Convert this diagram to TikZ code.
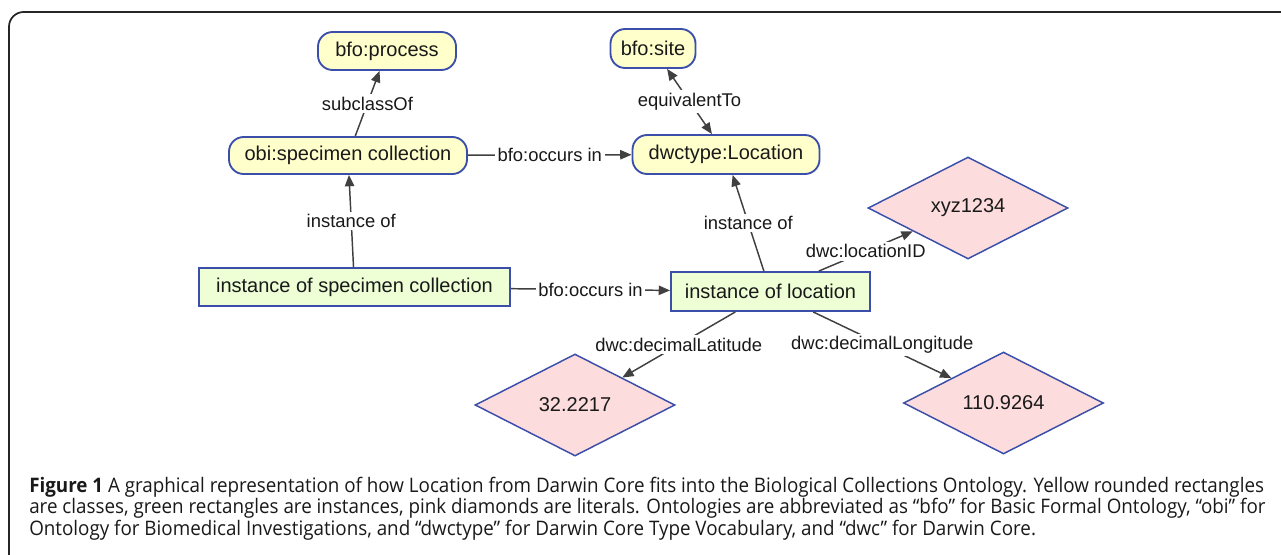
\documentclass[tikz,border=0pt]{standalone}
\usepackage{fontspec}
\setmainfont{Liberation Sans}
\newfontfamily\capfont[FakeStretch=0.94]{Open Sans}
\usetikzlibrary{shapes.geometric,arrows.meta}
\definecolor{clsfill}{RGB}{255,255,204}
\definecolor{insfill}{RGB}{238,255,214}
\definecolor{litfill}{RGB}{252,220,220}
\definecolor{bord}{RGB}{58,78,170}
\definecolor{edgec}{RGB}{64,64,64}
\definecolor{txt}{RGB}{25,25,25}
\newcommand\mynodefont{\fontsize{15}{18}\selectfont}
\newcommand\mylblfont{\fontsize{13.8}{16}\selectfont}
\newcommand\mycapfont{\capfont\fontsize{15}{17}\selectfont}
\begin{document}
\begin{tikzpicture}[x=0.75pt,y=-0.75pt,
  cls/.style={draw=bord,fill=clsfill,line width=1.4pt,rounded corners=11pt,inner sep=0pt,font=\mynodefont,text=txt},
  ins/.style={draw=bord,fill=insfill,line width=1.4pt,inner sep=0pt,font=\mynodefont,text=txt},
  lit/.style={diamond,aspect=2,draw=bord,fill=litfill,line width=1.1pt,inner sep=0pt,font=\mynodefont,text=txt,minimum width=150pt,minimum height=76.5pt},
  rel/.style={draw=edgec,line width=1.1pt,-{Triangle[length=8.5pt,width=7pt]}},
  lbl/.style={midway,fill=white,inner sep=2pt,font=\mylblfont,text=txt},
  capline/.style={anchor=base west,inner sep=0pt,font=\mycapfont,text=txt}
]
\useasboundingbox (0,0) rectangle (1281,554);
% frame
\draw[line width=1.3pt,draw=black!85,rounded corners=11pt] (9,560) -- (9,12) -- (1290,12);

% nodes
\node[cls,minimum width=103.5pt,minimum height=28.5pt] (process) at (387,51) {bfo:process};
\node[cls,minimum width=63.75pt,minimum height=29.25pt] (site) at (653,48.5) {bfo:site};
\node[cls,minimum width=178.5pt,minimum height=27.75pt] (obi) at (348,155.5) {obi:specimen collection};
\node[cls,minimum width=140.25pt,minimum height=29.25pt] (dwct) at (726,154.5) {dwctype:Location};
\node[ins,minimum width=233.25pt,minimum height=28.5pt] (isc) at (354.5,287) {instance of specimen collection};
\node[ins,minimum width=149.25pt,minimum height=29.25pt] (iol) at (770.5,291.5) {instance of location};
\node[lit] (xyz) at (968,208) {xyz1234};
\node[lit] (lat) at (575,405) {32.2217};
\node[lit] (lon) at (1003.5,403) {110.9264};

% edges
\draw[rel] (obi) -- node[lbl] (l1) {subclassOf} (process);
\draw[rel] (isc) -- node[lbl] (l2) {instance of} (obi);
\draw[rel] (obi) -- node[lbl] (l3) {bfo:occurs in} (dwct);
\draw[rel,{Triangle[length=8.5pt,width=7pt]}-{Triangle[length=8.5pt,width=7pt]}] (site) -- node[lbl] (l4) {equivalentTo} (dwct);
\draw[rel] (iol) -- node[lbl] (l5) {instance of} (dwct);
\draw[rel] (isc) -- node[lbl] (l6) {bfo:occurs in} (iol);
\draw[rel] (iol) -- node[lbl] (l7) {dwc:locationID} (xyz);
\draw[rel] (iol) -- node[lbl] (l8) {dwc:decimalLatitude} (lat);
\draw[rel] (iol) -- node[lbl] (l9) {dwc:decimalLongitude} (lon);

% caption
\node[capline] (cap1) at (29,492) {\textbf{Figure 1} A graphical representation of how Location from Darwin Core fits into the Biological Collections Ontology. Yellow rounded rectangles};
\node[capline] (cap2) at (29,513.5) {are classes, green rectangles are instances, pink diamonds are literals. Ontologies are abbreviated as “bfo” for Basic Formal Ontology, “obi” for};
\node[capline] (cap3) at (29,535) {Ontology for Biomedical Investigations, and “dwctype” for Darwin Core Type Vocabulary, and “dwc” for Darwin Core.};
\end{tikzpicture}
\end{document}
